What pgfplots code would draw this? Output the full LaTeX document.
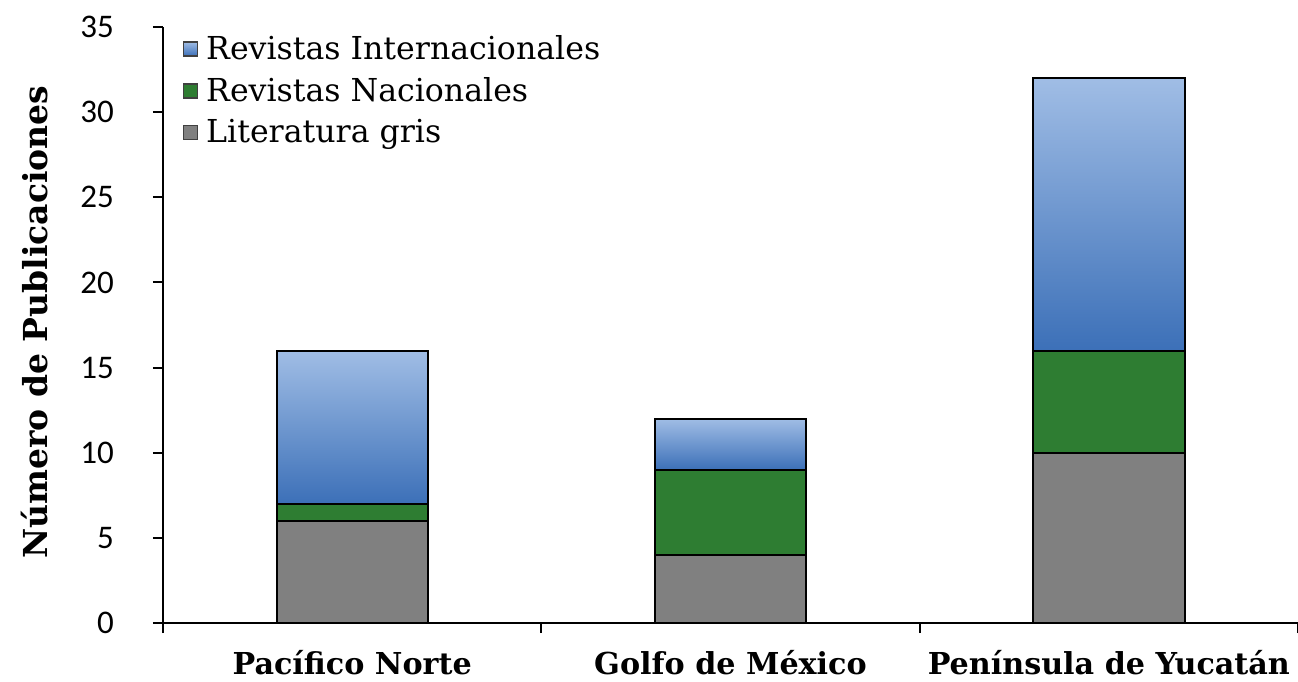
\documentclass[border=0pt]{standalone}
\usepackage{pgfplots}
\pgfplotsset{compat=1.18}
\usepackage{fontspec}
\setmainfont{DejaVu Serif}
\newfontfamily\tickfont{Carlito}
\usetikzlibrary{calc}
\definecolor{blueTop}{RGB}{160,189,229}
\definecolor{blueMid}{RGB}{95,140,205}
\definecolor{blueBot}{RGB}{60,112,184}
\definecolor{gverde}{RGB}{46,125,50}
\definecolor{ggris}{RGB}{128,128,128}
\begin{document}
\begin{tikzpicture}
\begin{axis}[name=ax, scale only axis, width=567.5pt, height=298pt,
  ybar stacked, bar width=0.4,
  xmin=0, xmax=3, ymin=0, ymax=35,
  axis lines*=left, axis line style={line width=1pt},
  tick align=outside, major tick length=5pt, tick style={black, line width=1pt},
  xtick={0,1,2,3}, xticklabels={},
  extra x ticks={0.5,1.5,2.5},
  extra x tick labels={Pacífico Norte, Golfo de México, Península de Yucatán},
  extra x tick style={major tick length=0pt, tick label style={font=\bfseries\fontsize{15.1}{17}\selectfont, yshift=-10pt}},
  ytick={0,5,...,35},
  /pgf/number format/assume math mode=true,
  yticklabel style={font=\tickfont\fontsize{16.5}{18}\selectfont, xshift=-16pt},
  ylabel={Número de Publicaciones},
  ylabel style={font=\bfseries\fontsize{16.5}{18}\selectfont, at={(axis description cs:-0.1128,0.505)}, anchor=center},
  legend style={at={(axis description cs:0.012,1.0)}, anchor=north west, draw=none, fill=none,
    font=\fontsize{15.8}{18}\selectfont, row sep=3.5pt, legend cell align=left,
    nodes={inner xsep=4pt}},
  legend image code/.code={\draw[#1, draw=black!75, line width=0.6pt] (0pt,-3.5pt) rectangle (7pt,3.5pt);},
  blueBar/.style={top color=blueTop, middle color=blueMid, bottom color=blueBot, draw=black, line width=1pt},
]
\addlegendimage{blueBar}
\addlegendentry{Revistas Internacionales}
\addlegendimage{fill=gverde}
\addlegendentry{Revistas Nacionales}
\addlegendimage{fill=ggris}
\addlegendentry{Literatura gris}
\addplot[fill=ggris, draw=black, line width=1pt] coordinates {(0.5,6) (1.5,4) (2.5,10)};
\addplot[fill=gverde, draw=black, line width=1pt] coordinates {(0.5,1) (1.5,5) (2.5,6)};
\addplot[blueBar] coordinates {(0.5,9) (1.5,0) (2.5,0)};
\addplot[blueBar] coordinates {(0.5,0) (1.5,3) (2.5,0)};
\addplot[blueBar] coordinates {(0.5,0) (1.5,0) (2.5,16)};
\end{axis}
\pgfresetboundingbox
\path ($(ax.south west)+(-81.5pt,-29pt)$) rectangle ($(ax.north east)+(0pt,13.5pt)$);
\end{tikzpicture}
\end{document}
